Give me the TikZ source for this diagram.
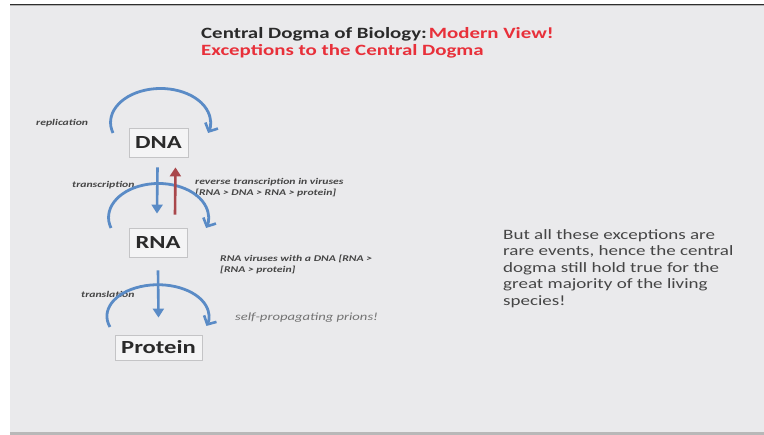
\documentclass[tikz,border=0pt]{standalone}
\usepackage{fontspec}
\setmainfont{Carlito}[FakeStretch=1.33]
\usetikzlibrary{arrows.meta}
\definecolor{bg}{HTML}{EAEAEC}
\definecolor{arcblue}{HTML}{5A8BC6}
\definecolor{arrred}{HTML}{A9474B}
\definecolor{titlered}{HTML}{E8303A}
\definecolor{txt}{HTML}{2A2A2A}
\definecolor{gtxt}{HTML}{454545}
\definecolor{boxline}{HTML}{C4C4C6}
\tikzset{
  molbox/.style={draw=boxline, line width=0.8pt, fill=white!50!bg, text=txt,
    font=\bfseries\fontsize{18.5}{20}\selectfont, inner sep=0pt},
  lbl/.style={anchor=base west, inner sep=0pt, text=gtxt,
    font=\bfseries\itshape\fontsize{8.8}{11}\selectfont},
  loopArc/.style={draw=arcblue, line width=2.8pt,
    -{Straight Barb[length=6.5pt,width=14pt,line width=2.6pt]}},
  vblue/.style={draw=arcblue, line width=2.6pt, -{Triangle[length=9pt,width=11pt]}},
  vred/.style={draw=arrred, line width=2.6pt, -{Triangle[length=9pt,width=11pt]}}
}
\begin{document}
\begin{tikzpicture}[x=1pt,y=1pt]
\useasboundingbox (0,0) rectangle (764,-435);
\fill[white] (0,0) rectangle (764,-435);
\fill[bg] (10,-6) rectangle (764,-432);
\fill[black!82] (10,-3.8) rectangle (764,-5.4);
\fill[black!30] (10,-5.4) rectangle (764,-6.4);
\fill[black!28] (10,-432) rectangle (764,-435);

% title
\node[anchor=base west, inner sep=0pt, text=txt, font=\bfseries\fontsize{15.7}{18}\selectfont]
  (t1) at (201,-39) {Central Dogma of Biology:\hspace{0.12em}\textcolor{titlered}{Modern View!}};
\node[anchor=base west, inner sep=0pt, text=titlered, font=\bfseries\fontsize{15.7}{18}\selectfont]
  (t2) at (201,-56) {Exceptions to the Central Dogma};

% boxes
\node[molbox, minimum width=59pt, minimum height=29pt] (dna) at (158.5,-142.5) {DNA};
\node[molbox, minimum width=58pt, minimum height=29pt] (rna) at (158,-242.5) {RNA};
\node[molbox, minimum width=87pt, minimum height=25pt] (prot) at (158.5,-347.5) {Protein};

% labels
\node[lbl] (lrep) at (36,-126) {replication};
\node[lbl] (ltrs) at (72,-188) {transcription};
\node[lbl, align=left] (lrev) at (195,-196) {reverse transcription in viruses\\\relax[RNA > DNA > RNA > protein]};
\node[lbl, align=left] (lvir) at (220,-273) {RNA viruses with a DNA [RNA >\\\relax[RNA > protein]};
\node[lbl] (ltrl) at (81,-298) {translation};
\node[anchor=base west, inner sep=0pt, text=black!55, font=\itshape\fontsize{11}{13}\selectfont]
  (lpri) at (235,-321) {self-propagating prions!};

\node[anchor=north west, inner sep=0pt, text=gtxt, align=left,
  font=\fontsize{14.3}{16.6}\selectfont] (note) at (503,-229)
  {But all these exceptions are\\rare events, hence the central\\dogma still hold true for the\\great majority of the living\\species!};

% loops
\coordinate (r0) at ([shift={(-45.5,9.5)}]dna.center);
\draw[loopArc] (r0) arc[start angle=198, end angle=-18, x radius=50, y radius=34];
\coordinate (s0) at ([shift={(-47,14.5)}]rna.center);
\draw[loopArc] (s0) arc[start angle=198, end angle=-18, x radius=50, y radius=34];
\coordinate (u0) at ([shift={(-48.5,20.5)}]prot.center);
\draw[loopArc] (u0) arc[start angle=200, end angle=-18, x radius=51, y radius=31.5];

% vertical arrows
\draw[vblue] ([xshift=-1pt,yshift=-10pt]dna.south) -- ([xshift=-1pt,yshift=14pt]rna.north);
\draw[vred] ([xshift=17pt,yshift=13pt]rna.north) -- ([xshift=17pt,yshift=-10pt]dna.south);
\draw[vblue] ([yshift=-13pt]rna.south) -- ([yshift=17pt]prot.north);
\end{tikzpicture}
\end{document}
